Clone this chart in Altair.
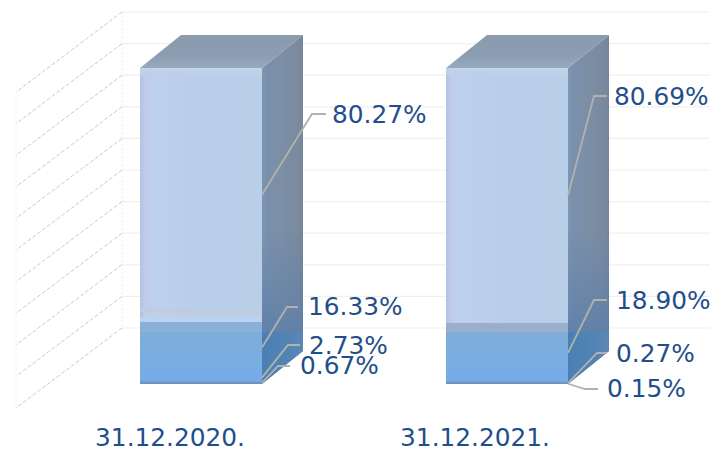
import altair as alt
import pandas as pd

# ---- values
DATES = ["31.12.2020.", "31.12.2021."]
SHARES_2020 = [0.67, 2.73, 16.33, 80.27]   # bottom to top
SHARES_2021 = [0.15, 0.27, 18.90, 80.69]
LABELS_2020 = ["0.67%", "2.73%", "16.33%", "80.27%"]
LABELS_2021 = ["0.15%", "0.27%", "18.90%", "80.69%"]
GRID_TICKS = list(range(0, 101, 10))

# ---- layout (pixels on the page)
PX_PER_PCT = 3.16
BASE_PX = 384
W, H = 702, 435
def pct(py):
    return (BASE_PX - py) / PX_PER_PCT

BAR_LEFT = [140, 446]
BAR_W = 122
DX, DY = 41, 33 / PX_PER_PCT
WALL_X, FLOOR_X = 122, 16
WALL_DY = 56 / PX_PER_PCT
FLOOR_DY = 24 / PX_PER_PCT
TINT = pct(332)
ELBOWS = [
    [(278, 366, 290), (288, 345, 300), (287, 307, 298), (312, 114, 326)],
    [(585, 389, 598), (597, 353, 607), (594, 300, 607), (594, 96, 607)],
]
LABEL_POS = [
    [(300, 367), (309, 347), (308, 308), (332, 116)],
    [(607, 390), (616, 355), (616, 302), (614, 98)],
]
DATE_X = [170, 475]
DATE_Y = 439
FONT_SIZE = 24.8

xs = alt.Scale(domain=[8, 8 + W], nice=False, zero=False)
ys = alt.Scale(domain=[pct(8 + H), pct(8)], nice=False, zero=False)

def X(f="x"):
    return alt.X(f + ":Q", scale=xs, axis=None)
def Y(f="y"):
    return alt.Y(f + ":Q", scale=ys, axis=None)

def grad(stops, horizontal=False):
    st = [alt.GradientStop(color=c, offset=o) for o, c in stops]
    return alt.Gradient(gradient="linear", stops=st, x1=0, y1=0,
                        x2=1 if horizontal else 0, y2=0 if horizontal else 1)

def rect(x0, x1, y0, y1, color):
    d = pd.DataFrame({"x": [x0], "x1": [x1], "y": [y0], "y1": [y1]})
    return alt.Chart(d).mark_rect(color=color).encode(x=X(), x2="x1:Q", y=Y(), y2="y1:Q")

layers = []

# ---- wall gridlines and dashed floor lines
grid = pd.DataFrame({"t": GRID_TICKS})
grid["y"] = grid.t + WALL_DY
grid["x"] = WALL_X
grid["x1"] = 8 + W
layers.append(alt.Chart(grid).mark_rule(color="#f0efec", strokeWidth=1.2).encode(
    x=X(), x2="x1:Q", y=Y()))

diag = grid.copy()
diag["x1"] = FLOOR_X
diag["y1"] = diag.t - FLOOR_DY
layers.append(alt.Chart(diag).mark_rule(color="#b2b2b0", strokeWidth=0.7, strokeDash=[4, 2]).encode(
    x=X(), x2="x1:Q", y=Y(), y2="y1:Q"))

vert = pd.DataFrame({"x": [WALL_X, FLOOR_X], "y": [100 + WALL_DY, 100 - FLOOR_DY],
                     "y1": [WALL_DY, -FLOOR_DY]})
layers.append(alt.Chart(vert).mark_rule(color="#e6e6e4", strokeWidth=0.7, strokeDash=[2, 2]).encode(
    x=X(), y=Y(), y2="y1:Q"))

# ---- 3D columns
lowers = [sum(SHARES_2020[:3]), sum(SHARES_2021[:3])]
BAND = ["#8bb0d8", "#9aafcc"]
for i, left in enumerate(BAR_LEFT):
    right = left + BAR_W
    # side face
    side = pd.DataFrame({"x": [right, right + DX], "y": [100, 100 + DY], "y1": [0, DY]})
    layers.append(alt.Chart(side).mark_area(
        color=grad([(0, "#7f95b2"), (0.12, "#7990ad"), (0.45, "#7c8fa6"), (0.9, "#7a8a9e"), (1, "#74859a")], True)
    ).encode(x=X(), y=Y(), y2="y1:Q"))
    shade = pd.DataFrame({"x": [right, right + DX], "y": [pct(230), pct(230)], "y1": [TINT, TINT]})
    layers.append(alt.Chart(shade).mark_area(
        color=grad([(0, "rgba(90,125,170,0)"), (1, "rgba(90,125,170,0.75)")])
    ).encode(x=X(), y=Y(), y2="y1:Q"))
    tint = pd.DataFrame({"x": [right, right + DX], "y": [TINT, TINT], "y1": [0, DY]})
    layers.append(alt.Chart(tint).mark_area(
        color=grad([(0, "#4b7fb3"), (0.6, "#5183b5"), (1, "#5d87b4")], True)
    ).encode(x=X(), y=Y(), y2="y1:Q"))
    # top face
    top = pd.DataFrame({"y": [100, 100 + DY], "x": [left, left + DX], "x1": [right, right + DX]})
    layers.append(alt.Chart(top).mark_area(
        orient="horizontal",
        color=grad([(0, "#8b9bad"), (0.6, "#8a9db2"), (1, "#97aabe")])
    ).encode(y=Y(), x=X(), x2="x1:Q"))
    # front face
    low = lowers[i]
    up = pd.DataFrame({"x": [left], "x1": [right], "y": [low], "y1": [100]})
    layers.append(alt.Chart(up).mark_rect(
        color=grad([(0, "#b4c1e2"), (0.05, "#c0cdec"), (0.14, "#bdd0ee"), (0.5, "#b9cee9"), (1, "#b9cfe8")], True)
    ).encode(x=X(), x2="x1:Q", y=Y(), y2="y1:Q"))
    ridge = pd.DataFrame({"x": [left], "x1": [right], "y": [100 - 2.4], "y1": [100]})
    layers.append(alt.Chart(ridge).mark_rect(
        color=grad([(0, "#c4d4ea"), (1, "#bacfe9")])
    ).encode(x=X(), x2="x1:Q", y=Y(), y2="y1:Q"))
    layers.append(rect(left, right, TINT, low, BAND[i]))
    low_face = pd.DataFrame({"x": [left], "x1": [right], "y": [0], "y1": [TINT]})
    layers.append(alt.Chart(low_face).mark_rect(
        color=grad([(0, "#7fadd9"), (0.6, "#79aee2"), (1, "#74aaea")])
    ).encode(x=X(), x2="x1:Q", y=Y(), y2="y1:Q"))
    layers.append(rect(left, right, 0, 0.7, "#6f94bf"))

# soft seam just above the first column's lower band
layers.append(rect(BAR_LEFT[0], BAR_LEFT[0] + BAR_W, lowers[0], pct(317), "#bcd2ee"))
layers.append(rect(BAR_LEFT[0], BAR_LEFT[0] + BAR_W, pct(312), pct(309), "#c2cadb"))

# ---- leader lines, starting at the middle of each stacked segment
rows, texts = [], []
for b, (shares, labels) in enumerate(zip([SHARES_2020, SHARES_2021], [LABELS_2020, LABELS_2021])):
    cum = 0
    for s, (v, lab) in enumerate(zip(shares, labels)):
        mid = cum + v / 2
        cum += v
        ex, ey, end = ELBOWS[b][s]
        key = f"{b}-{s}"
        rows += [
            {"k": key, "o": 0, "x": BAR_LEFT[b] + BAR_W, "y": mid},
            {"k": key, "o": 1, "x": ex, "y": pct(ey)},
            {"k": key, "o": 2, "x": end, "y": pct(ey)},
        ]
        lx, ly = LABEL_POS[b][s]
        texts.append({"x": lx, "y": pct(ly), "t": lab})
layers.append(alt.Chart(pd.DataFrame(rows)).mark_line(color="#b3b1ab", strokeWidth=1.8).encode(
    x=X(), y=Y(), detail="k:N", order="o:Q"))

layers.append(alt.Chart(pd.DataFrame(texts)).mark_text(
    align="left", baseline="middle", font="DejaVu Sans", fontSize=FONT_SIZE, color="#1f4e8c"
).encode(x=X(), y=Y(), text="t:N"))

dates = pd.DataFrame({"x": DATE_X, "y": [pct(DATE_Y)] * 2, "t": DATES})
layers.append(alt.Chart(dates).mark_text(
    align="center", baseline="middle", font="DejaVu Sans", fontSize=FONT_SIZE, color="#1f4e8c"
).encode(x=X(), y=Y(), text="t:N"))

chart = alt.layer(*layers).properties(
    width=W, height=H,
    padding={"left": 0, "top": 0, "right": 0, "bottom": 8},
    autosize=alt.AutoSizeParams(type="none"),
    background="white",
).configure_view(stroke=None)

chart.save("out.html", embed_options={"renderer": "svg", "actions": False})
